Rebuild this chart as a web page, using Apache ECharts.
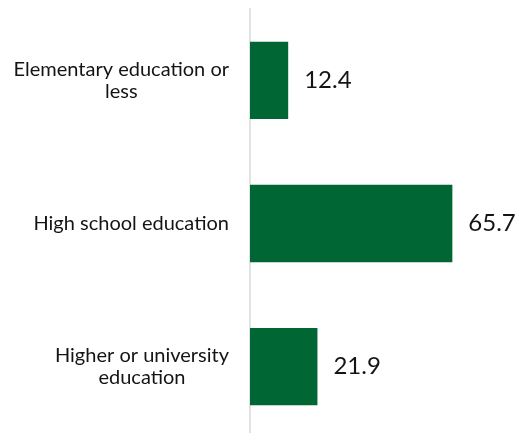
<!DOCTYPE html>
<html>
<head>
<meta charset="utf-8">
<script src="https://cdn.jsdelivr.net/npm/echarts@6/dist/echarts.min.js"></script>
<style>
  html, body { margin: 0; padding: 0; background: #ffffff; }
  #chart { width: 521px; height: 433px; }
</style>
</head>
<body>
<div id="chart"></div>
<script>
// Education level shares (%)
const categories = [
  'Elementary education or\nless',
  'High school education',
  'Higher or university\neducation'
];
const values = [12.4, 65.7, 21.9];

const FONT = 'Lato';
const TEXT = '#141414';
const GREEN = '#006633';

const chart = echarts.init(document.getElementById('chart'), null, { renderer: 'canvas' });

chart.setOption({
  animation: false,
  backgroundColor: '#ffffff',
  // plot area runs slightly past the bottom edge of the canvas
  grid: {
    left: 250, right: 24.6, top: 8.7, height: 429.6,
    containLabel: false,
    outerBoundsMode: 'none'
  },
  xAxis: {
    type: 'value',
    min: 0,
    max: 80,
    show: false
  },
  yAxis: {
    type: 'category',
    inverse: true,
    data: categories,
    axisLine: { show: true, lineStyle: { color: '#d9d9d9', width: 1.5 } },
    axisTick: { show: false },
    splitLine: { show: false },
    axisLabel: {
      margin: 21,
      fontFamily: FONT,
      fontSize: 20,
      color: TEXT,
      lineHeight: 22,
      // each line centred within its own label block
      formatter: function (v) { return '{c|' + v + '}'; },
      rich: {
        c: { align: 'center', fontFamily: FONT, fontSize: 20, color: TEXT, lineHeight: 22 }
      }
    }
  },
  series: [{
    type: 'bar',
    data: values,
    barWidth: '54%',
    itemStyle: { color: GREEN },
    label: {
      show: true,
      position: 'right',
      distance: 16,
      fontFamily: FONT,
      fontSize: 24,
      color: TEXT,
      formatter: function (p) { return p.value.toFixed(1); }
    }
  }]
});
</script>
</body>
</html>
